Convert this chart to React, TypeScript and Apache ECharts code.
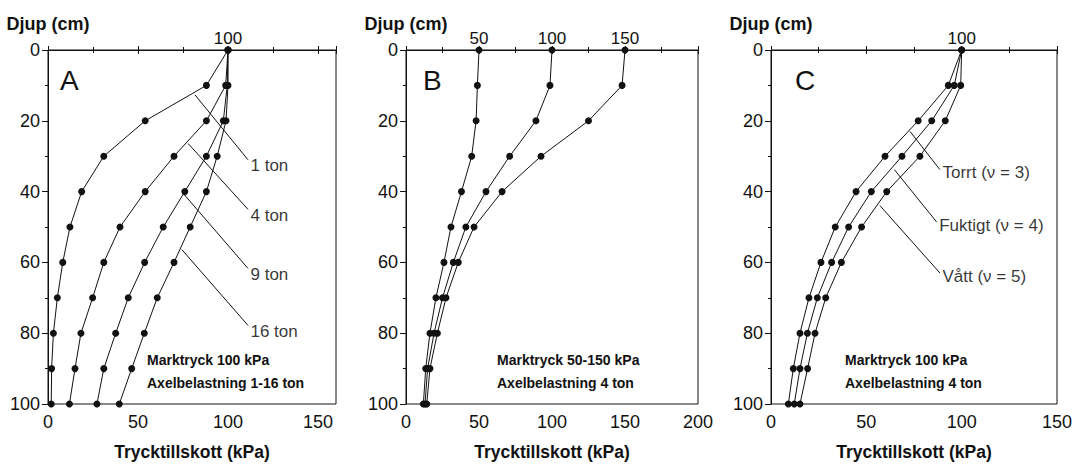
import React, { useEffect, useRef } from "react";
import * as echarts from "echarts";

// ---- data ----
const depths = [0, 10, 20, 30, 40, 50, 60, 70, 80, 90, 100];

// Panel A: Marktryck 100 kPa, Axelbelastning 1-16 ton
const a1ton = [100, 88, 54, 31, 18.7, 12.2, 8.2, 5.2, 3, 2, 1.8];
const a4ton = [100, 98.7, 88, 70, 54, 40, 31, 24.8, 18.3, 15, 11.9];
const a9ton = [100, 99.6, 97.4, 88, 76, 64, 53.7, 44.6, 37.6, 31, 27.2];
const a16ton = [100, 100, 98.9, 94, 88, 79, 70, 60.7, 53.5, 46.5, 39.6];

// Panel B: Marktryck 50-150 kPa, Axelbelastning 4 ton
const b50 = [50, 48.9, 48, 45, 38, 30.8, 26, 20.5, 16.4, 13.5, 11.9];
const b100 = [100, 98.6, 89, 71, 54.8, 41, 32.4, 25, 19.2, 14.8, 13];
const b150 = [150, 148, 125, 92.5, 65.8, 46.6, 35.8, 27.4, 21.5, 16.4, 14.2];

// Panel C: Marktryck 100 kPa, Axelbelastning 4 ton
const cTorrt = [100, 93, 77.2, 59.8, 44.6, 33.7, 26.2, 19.9, 15.2, 11.7, 9.1];
const cFuktigt = [100, 96.1, 84.3, 68.7, 52.6, 40.7, 31.8, 24.3, 19.1, 15.2, 12.2];
const cVatt = [100, 99.5, 91.4, 78.1, 60.7, 47.5, 36.9, 28.7, 23.1, 19.2, 15.2];

// axis ranges and tick labels
const xMaxA = 160;
const xMaxB = 200;
const xMaxC = 150;
const topLabelsA = [100];
const topLabelsB = [50, 100, 150];
const topLabelsC = [100];

// callout leaders (data units: [kPa, cm])
const leadersA = [
  { text: "1 ton", from: [81.7, 12.7], to: [111.1, 31] },
  { text: "4 ton", from: [77.8, 26.4], to: [111.1, 45] },
  { text: "9 ton", from: [75.6, 40.8], to: [111.1, 61.7] },
  { text: "16 ton", from: [74.4, 56.4], to: [111.1, 77.8] },
];
const leadersC = [
  { text: "Torrt (ν = 3)", from: [72.9, 23], to: [88.6, 33.8] },
  { text: "Fuktigt (ν = 4)", from: [64.7, 33.8], to: [86.9, 48.6] },
  { text: "Vått (ν = 5)", from: [57.2, 44], to: [88.6, 63] },
];

const notesA = ["Marktryck 100 kPa", "Axelbelastning 1-16 ton"];
const notesB = ["Marktryck 50-150 kPa", "Axelbelastning 4 ton"];
const notesC = ["Marktryck 100 kPa", "Axelbelastning 4 ton"];

const FONT = "'Liberation Sans', Arial, Helvetica, sans-serif";
const INK = "#111";

function buildOption() {
  const panels = [
    {
      grid: { left: 48, top: 50, width: 288, height: 360 },
      xMax: xMaxA,
      top: topLabelsA,
      lines: [a1ton, a4ton, a9ton, a16ton],
      names: ["1 ton", "4 ton", "9 ton", "16 ton"],
      leaders: leadersA,
      leaderOffset: 6,
      letter: "A",
      letterX: 60,
      notes: notesA,
      notesX: 147,
    },
    {
      grid: { left: 406, top: 50, width: 292, height: 360 },
      xMax: xMaxB,
      top: topLabelsB,
      lines: [b50, b100, b150],
      names: ["50 kPa", "100 kPa", "150 kPa"],
      leaders: [],
      leaderOffset: 0,
      letter: "B",
      letterX: 423,
      notes: notesB,
      notesX: 497,
    },
    {
      grid: { left: 771, top: 50, width: 286, height: 360 },
      xMax: xMaxC,
      top: topLabelsC,
      lines: [cTorrt, cFuktigt, cVatt],
      names: ["Torrt", "Fuktigt", "Vått"],
      leaders: leadersC,
      leaderOffset: 3,
      letter: "C",
      letterX: 795,
      notes: notesC,
      notesX: 845,
    },
  ];

  const grid: any[] = [];
  const xAxis: any[] = [];
  const yAxis: any[] = [];
  const series: any[] = [];
  const graphic: any[] = [];

  panels.forEach((p, i) => {
    grid.push({
      ...p.grid,
      show: true,
      borderColor: INK,
      borderWidth: 1,
      backgroundColor: "transparent",
    });
    const common = {
      gridIndex: i,
      type: "value",
      min: 0,
      max: p.xMax,
      interval: 50,
      splitLine: { show: false },
      axisLine: { show: true, lineStyle: { color: INK, width: 1 } },
      axisTick: { show: true, inside: true, length: 4, lineStyle: { color: INK } },
      minorTick: { show: true, splitNumber: 2, length: 3, lineStyle: { color: INK } },
      minorSplitLine: { show: false },
    };
    xAxis.push({
      ...common,
      position: "bottom",
      name: "Trycktillskott (kPa)",
      nameLocation: "middle",
      nameGap: 39,
      nameTextStyle: { fontFamily: FONT, fontSize: 17.5, fontWeight: "bold", color: INK },
      axisLabel: {
        fontFamily: FONT,
        fontSize: 18,
        color: INK,
        margin: 9,
        formatter: (v: number) => (v % 50 === 0 ? String(v) : ""),
      },
    });
    xAxis.push({
      ...common,
      position: "top",
      axisLabel: {
        fontFamily: FONT,
        fontSize: 17,
        color: INK,
        margin: 3,
        formatter: (v: number) => (p.top.indexOf(v) >= 0 ? String(v) : ""),
      },
    });
    yAxis.push({
      gridIndex: i,
      type: "value",
      inverse: true,
      min: 0,
      max: 100,
      interval: 20,
      name: "Djup (cm)",
      nameLocation: "start",
      nameGap: 17,
      nameTextStyle: { fontFamily: FONT, fontSize: 18, fontWeight: "bold", color: INK },
      splitLine: { show: false },
      axisLine: { show: true, lineStyle: { color: INK, width: 1 } },
      axisTick: { show: true, inside: false, length: 6, lineStyle: { color: INK } },
      minorTick: { show: true, splitNumber: 2, length: 3, lineStyle: { color: INK } },
      axisLabel: { fontFamily: FONT, fontSize: 18, color: INK, margin: 8 },
    });

    p.lines.forEach((vals, k) => {
      series.push({
        type: "line",
        name: p.names[k],
        xAxisIndex: i * 2,
        yAxisIndex: i,
        data: vals.map((v, j) => [v, depths[j]]),
        symbol: "circle",
        symbolSize: 7,
        showSymbol: true,
        itemStyle: { color: INK },
        lineStyle: { color: INK, width: 1 },
        silent: true,
        z: 3,
      });
    });

    p.leaders.forEach((l) => {
      series.push({
        type: "line",
        xAxisIndex: i * 2,
        yAxisIndex: i,
        data: [l.from, l.to],
        showSymbol: false,
        symbol: "none",
        lineStyle: { color: INK, width: 1 },
        silent: true,
        z: 2,
      });
      series.push({
        type: "scatter",
        xAxisIndex: i * 2,
        yAxisIndex: i,
        data: [l.to],
        symbol: "circle",
        symbolSize: 1,
        itemStyle: { color: "transparent" },
        silent: true,
        label: {
          show: true,
          position: "right",
          distance: 2,
          offset: [0, p.leaderOffset],
          formatter: () => l.text,
          fontFamily: FONT,
          fontSize: 17,
          color: "#000",
        },
      });
    });

    graphic.push({
      type: "text",
      left: p.letterX,
      top: 66,
      style: { text: p.letter, font: `28px ${FONT}`, fill: INK },
    });
    p.notes.forEach((n, k) => {
      graphic.push({
        type: "text",
        left: p.notesX,
        top: 353 + k * 23,
        style: { text: n, font: `bold 14px ${FONT}`, fill: INK },
      });
    });
  });

  return {
    animation: false,
    backgroundColor: "#fff",
    textStyle: { fontFamily: FONT },
    grid,
    xAxis,
    yAxis,
    series,
    graphic,
  };
}

export default function App() {
  const ref = useRef<HTMLDivElement>(null);
  useEffect(() => {
    if (!ref.current) return;
    const chart = echarts.init(ref.current, undefined, { renderer: "svg" });
    chart.setOption(buildOption() as any);
    return () => chart.dispose();
  }, []);
  return (
    <div
      ref={ref}
      style={{ position: "fixed", left: 0, top: 0, width: 1076, height: 466, background: "#fff" }}
    />
  );
}
